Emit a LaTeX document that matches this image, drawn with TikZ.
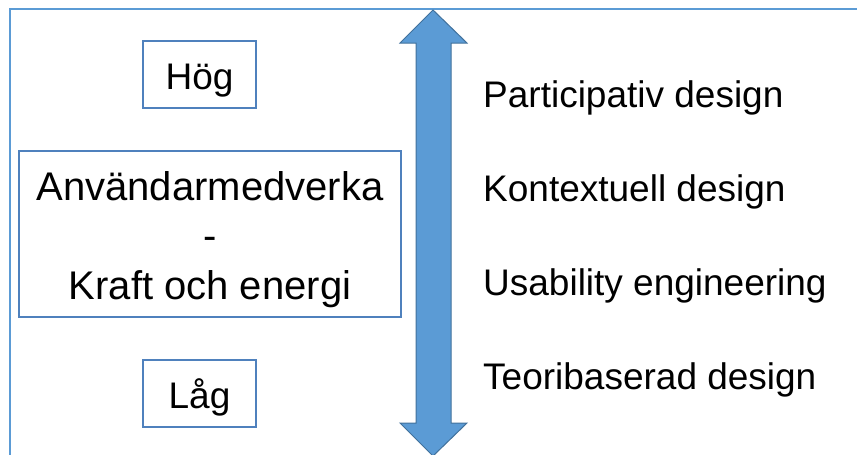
\documentclass[tikz,border=0pt]{standalone}
\usepackage{fontspec}
\setmainfont{Liberation Sans}

\definecolor{framecol}{RGB}{91,155,213}
\definecolor{boxcol}{RGB}{79,129,189}
\definecolor{arrowfill}{RGB}{91,155,213}
\definecolor{arrowline}{RGB}{65,113,156}

\tikzset{
  bigtext/.style={font=\fontsize{37}{49.5}\selectfont},
  lvlbox/.style={draw=boxcol, line width=1.5pt, inner sep=0pt,
    minimum width=113pt, minimum height=67pt, text height=29pt, text depth=0pt},
  medvbox/.style={draw=boxcol, line width=1.5pt, inner sep=0pt, align=center,
    font=\fontsize{40}{49.5}\selectfont,
    minimum width=382pt, minimum height=166pt, text height=130pt, text depth=0pt},
  method/.style={anchor=base west, inner sep=0pt},
}

\begin{document}
\begin{tikzpicture}[x=1pt,y=-1pt,bigtext]
        \useasboundingbox (0,0) rectangle (857,455);

        % frame
        \draw[framecol, line width=1.5pt] (10,460) -- (10,9) -- (860,9);

        % levels
        \node[lvlbox] (hog) at (199.5,74.5) {Hög};
        \node[lvlbox] (lag) at (199.5,393.5) {Låg};

        % user participation
        \node[medvbox] (medv) at (210,234) {Användarmedverka\\-\\Kraft och energi};

        % scale arrow
        \filldraw[fill=arrowfill, draw=arrowline, line width=1pt]
            (433,10) -- (467,43) -- (451,43) -- (451,423) -- (467,423)
            -- (433,456) -- (400,423) -- (416,423) -- (416,43) -- (400,43) -- cycle;

        % methods
        \node[method] (part) at (483,107) {Participativ design};
        \node[method] (kont) at (483,201) {Kontextuell design};
        \node[method] (usab) at (483,295) {Usability engineering};
        \node[method] (teor) at (483,389) {Teoribaserad design};
\end{tikzpicture}
\end{document}
